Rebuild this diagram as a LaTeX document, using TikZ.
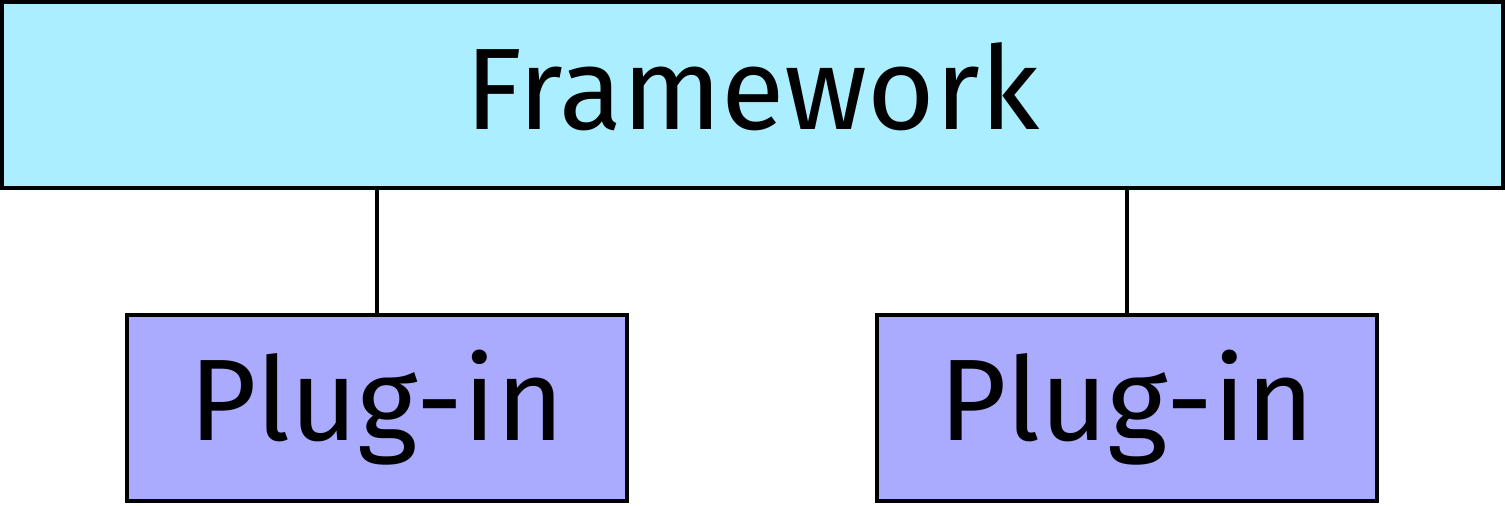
\documentclass[tikz,border=0pt]{standalone}
\usepackage{fontspec}
\setmainfont{Fira Sans}
\usetikzlibrary{positioning}
\definecolor{fwcolor}{HTML}{AAEEFF}
\definecolor{plcolor}{HTML}{AAAAFF}
\tikzset{
  fwbox/.style={draw=black,fill=fwcolor,line width=1.2pt,minimum width=15.01cm,minimum height=1.86cm,inner sep=0pt,font=\fontsize{33}{40}\selectfont},
  plbox/.style={draw=black,fill=plcolor,line width=1.2pt,minimum width=5.0cm,minimum height=1.86cm,inner sep=0pt,font=\fontsize{33}{40}\selectfont},
  link/.style={draw=black,line width=1.3pt}
}
\begin{document}
\begin{tikzpicture}
  \useasboundingbox (0,0) rectangle (15.05,5.05);
  % frame
  \node[fwbox,text depth=0.18cm] (framework) at (7.525,4.10) {Framework};
  % plug-ins
  \node[plbox] (plugA) at (3.77,0.97) {Plug-in};
  \node[plbox] (plugB) at (11.27,0.97) {Plug-in};
  % links
  \draw[link] (plugA.north) -- (plugA.north |- framework.south);
  \draw[link] (plugB.north) -- (plugB.north |- framework.south);
\end{tikzpicture}
\end{document}
